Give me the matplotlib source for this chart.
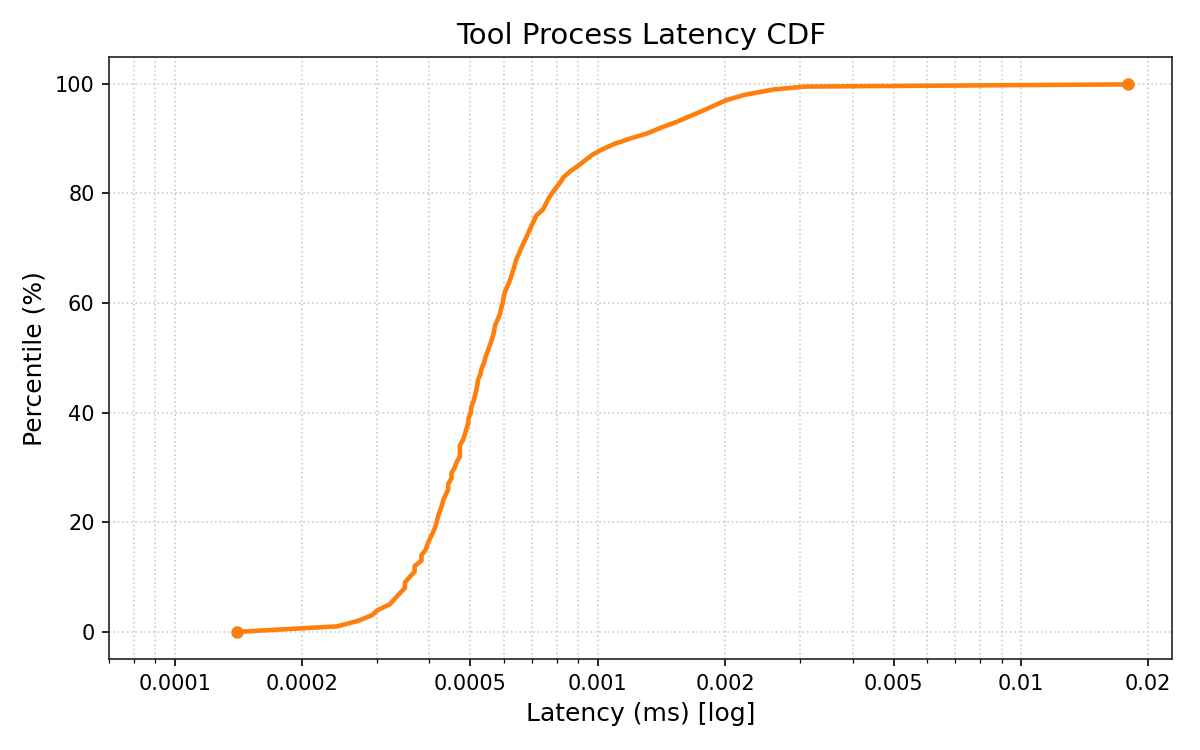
import numpy as np
import matplotlib
matplotlib.use("Agg")
import matplotlib.pyplot as plt

# percentile curve (latency in ms)
pct = [0, 1, 2, 3, 4, 5, 6, 7, 8, 9,
       10, 11, 12, 13, 14, 15, 16, 17, 18, 19,
       20, 21, 22, 23, 24, 25, 26, 27, 28, 29,
       30, 31, 32, 33, 34, 35, 36, 37, 38, 39,
       40, 41, 42, 43, 44, 45, 46, 47, 48, 49,
       50, 51, 52, 53, 54, 55, 56, 57, 58, 59,
       60, 61, 62, 63, 64, 65, 66, 67, 68, 69,
       70, 71, 72, 73, 74, 75, 76, 77, 78, 79,
       80, 81, 82, 83, 84, 85, 86, 87, 88, 89,
       90, 91, 92, 93, 94, 95, 96, 97, 98, 99,
       99.5, 99.9]
lat = [1.40e-4, 2.42e-4, 2.71e-4, 2.92e-4, 3.02e-4, 3.22e-4, 3.31e-4, 3.40e-4, 3.50e-4, 3.50e-4,
       3.59e-4, 3.69e-4, 3.69e-4, 3.83e-4, 3.83e-4, 3.92e-4, 3.96e-4, 4.01e-4, 4.07e-4, 4.12e-4,
       4.16e-4, 4.19e-4, 4.23e-4, 4.28e-4, 4.31e-4, 4.37e-4, 4.43e-4, 4.43e-4, 4.51e-4, 4.51e-4,
       4.59e-4, 4.64e-4, 4.72e-4, 4.72e-4, 4.72e-4, 4.80e-4, 4.85e-4, 4.89e-4, 4.94e-4, 4.95e-4,
       5.01e-4, 5.02e-4, 5.08e-4, 5.12e-4, 5.16e-4, 5.19e-4, 5.21e-4, 5.28e-4, 5.31e-4, 5.38e-4,
       5.42e-4, 5.48e-4, 5.54e-4, 5.60e-4, 5.65e-4, 5.69e-4, 5.72e-4, 5.80e-4, 5.87e-4, 5.91e-4,
       5.96e-4, 5.99e-4, 6.03e-4, 6.11e-4, 6.19e-4, 6.25e-4, 6.31e-4, 6.37e-4, 6.42e-4, 6.51e-4,
       6.59e-4, 6.68e-4, 6.78e-4, 6.87e-4, 6.96e-4, 7.06e-4, 7.16e-4, 7.41e-4, 7.53e-4, 7.64e-4,
       7.79e-4, 7.96e-4, 8.15e-4, 8.31e-4, 8.59e-4, 8.97e-4, 9.32e-4, 9.68e-4, 1.022e-3, 1.091e-3,
       1.190e-3, 1.313e-3, 1.41e-3, 1.53e-3, 1.64e-3, 1.76e-3, 1.88e-3, 2.008e-3, 2.226e-3, 2.62e-3,
       3.10e-3, 1.79e-2]

xticks = [0.0001, 0.0002, 0.0005, 0.001, 0.002, 0.005, 0.01, 0.02]
xtick_labels = ["0.0001", "0.0002", "0.0005", "0.001", "0.002", "0.005", "0.01", "0.02"]

fig, ax = plt.subplots(figsize=(8, 5), dpi=150)
fig.subplots_adjust(left=0.091, right=0.977, top=0.924, bottom=0.121)

ax.plot(lat, pct, color="#ff7f0e", linewidth=2.2, marker="o", markersize=5,
        markevery=[0, len(lat) - 1])

ax.set_xscale("log")
ax.set_xlim(left=7e-5)
ax.set_xticks(xticks)
ax.set_xticklabels(xtick_labels)

ax.grid(True, which="both", linestyle=":", color="#cccccc", linewidth=0.8)
ax.set_axisbelow(True)

for s in ax.spines.values():
    s.set_color("#222222")

ax.set_title("Tool Process Latency CDF", fontsize=14)
ax.set_xlabel("Latency (ms) [log]", fontsize=12)
ax.set_ylabel("Percentile (%)", fontsize=12)

fig.savefig("out.png", dpi=150)
